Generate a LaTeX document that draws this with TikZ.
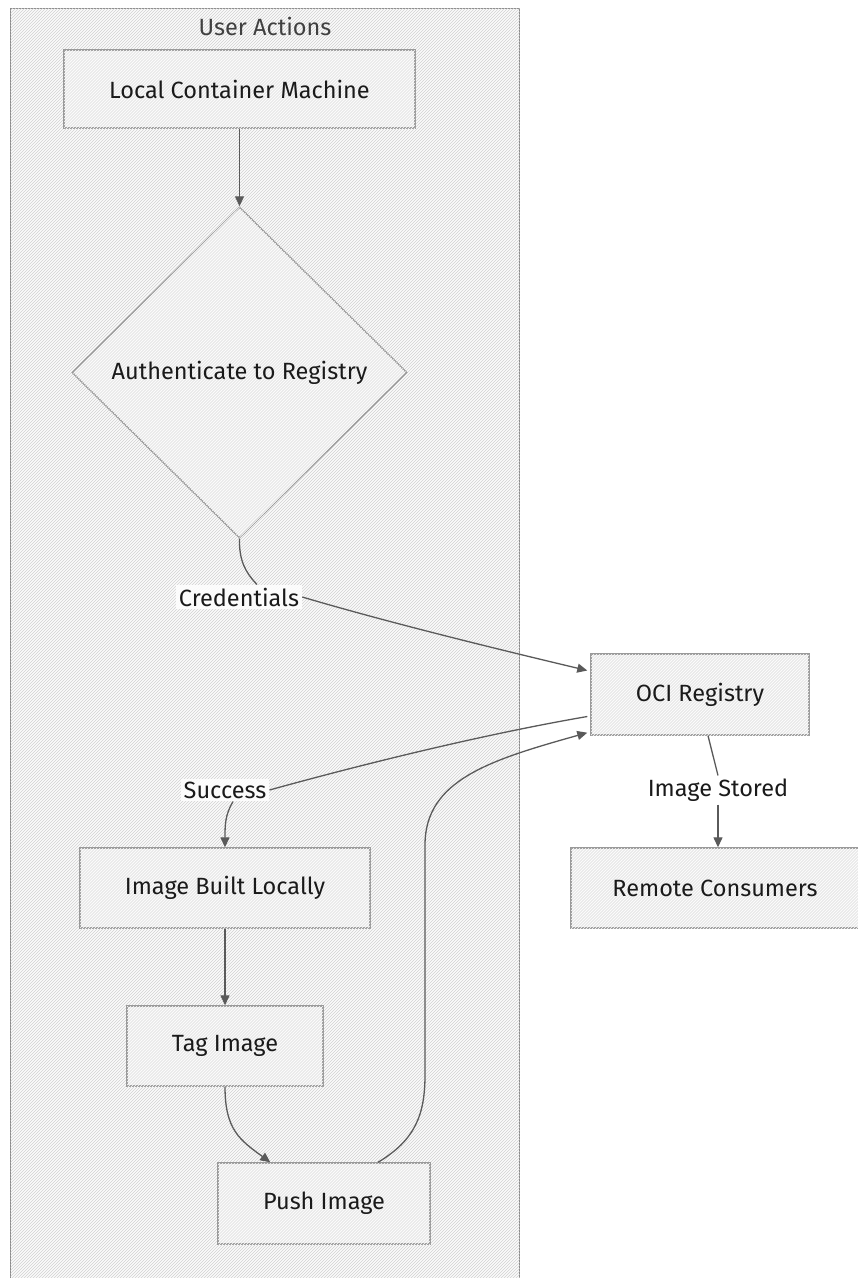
\documentclass[tikz,border=0pt]{standalone}
\usepackage{fontspec}
\setmainfont{Fira Sans}
\usetikzlibrary{shapes.geometric,arrows.meta,patterns,calc}
\definecolor{nodefill}{HTML}{EAEAEA}
\definecolor{nodeline}{HTML}{9A9A9A}
\definecolor{edgecol}{HTML}{5A5A5A}
\definecolor{clusterfill}{HTML}{FBFBFB}
\definecolor{clusterline}{HTML}{8A8A8A}
\definecolor{txt}{HTML}{1A1A1A}
\begin{document}
\begin{tikzpicture}[x=1pt,y=-1pt,
  box/.style={draw=nodeline,line width=1.4pt,fill=nodefill,
    postaction={pattern=north east lines,pattern color=white},
    font=\fontsize{23.5}{28}\selectfont,text=txt,inner sep=0pt},
  dia/.style={box,diamond,aspect=1},
  lbl/.style={fill=white,fill opacity=0.85,text opacity=1,text=txt,
    font=\fontsize{23.5}{28}\selectfont,inner sep=3pt},
  edgeline/.style={draw=edgecol,line width=1.3pt},
  arr/.style={edgeline,-{Triangle[length=10pt,width=9pt]}}
]
\useasboundingbox (0,0) rectangle (858,1278);
\fill[white] (0,0) rectangle (858,1278);
% cluster
\node[draw=clusterline,line width=1.3pt,fill=clusterfill,
  postaction={pattern=north east lines,pattern color=black!18},
  minimum width=509pt,minimum height=1290pt,inner sep=0pt,anchor=north west]
  (cluster) at (10,8) {};
\node[font=\fontsize{23.5}{28}\selectfont,text=black!75] (ctitle) at (265,26) {User Actions};
% nodes
\node[box,minimum width=351pt,minimum height=78pt] (lcm) at (239.5,89) {Local Container Machine};
\node[dia,minimum width=335pt,minimum height=331pt] (auth) at (239.5,372.5) {Authenticate to Registry};
\node[box,minimum width=218pt,minimum height=81pt] (oci) at (700,694.5) {OCI Registry};
\node[box,minimum width=290pt,minimum height=80pt] (ibl) at (225,888) {Image Built Locally};
\node[box,minimum width=196pt,minimum height=80pt] (tag) at (225,1046) {Tag Image};
\node[box,minimum width=212pt,minimum height=81pt] (push) at (324,1203.5) {Push Image};
\node[box,minimum width=288pt,minimum height=80pt] (rem) at (715,888) {Remote Consumers};
% labels
\node[lbl] (cred) at (239,597) {Credentials};
\node[lbl] (succ) at (225,790) {Success};
\node[lbl] (stored) at (718,790) {Image Stored};
% edges
\draw[arr] (lcm.south) -- (auth.north);
\draw[edgeline] (auth.south) .. controls (239,560) and (245,572) .. ($(cred.north)+(18,0)$);
\draw[arr] (cred.east) .. controls (380,620) and (480,645) .. ($(oci.west)+(-3,-24)$);
\draw[edgeline] ($(oci.west)+(-3,22)$) .. controls (480,735) and (360,765) .. (succ.east);
\draw[arr] ($(succ.south)+(8,0)$) .. controls (225,815) and (225,825) .. (ibl.north);
\draw[arr] (ibl.south) -- (tag.north);
\draw[arr] (tag.south) .. controls (225,1130) and (240,1140) .. ($(push.north west)+(53,0)$);
\draw[arr] ($(push.north)+(54,0)$) .. controls (415,1140) and (425,1115) .. (425,1075)
  -- (425,845) .. controls (425,780) and (490,760) .. ($(oci.south west)+(-3,-3)$);
\draw[edgeline] ($(oci.south)+(8,0)$) -- (stored.north);
\draw[arr] (stored.south) -- (rem.north-|stored.south);
\end{tikzpicture}
\end{document}
